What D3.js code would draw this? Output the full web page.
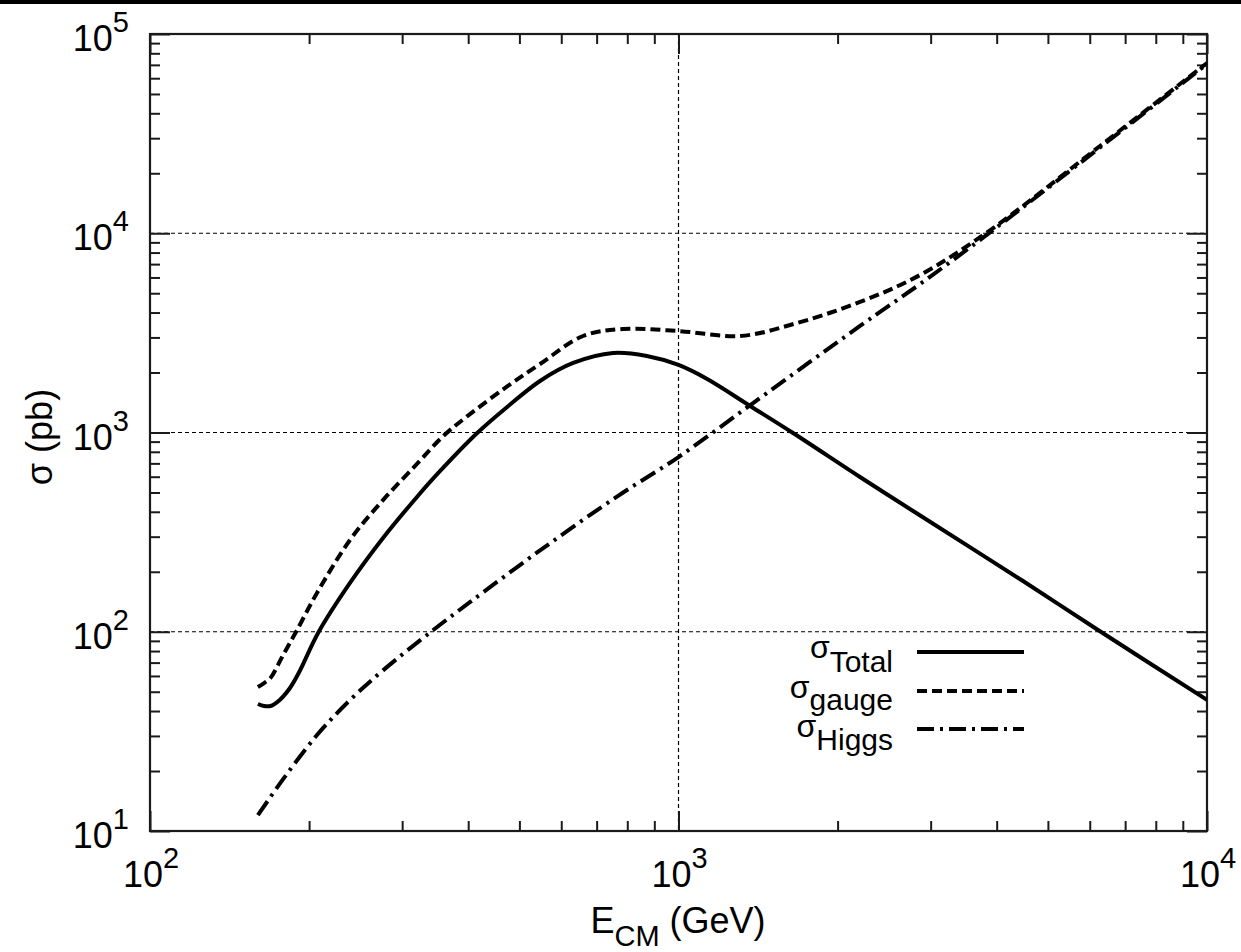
<!DOCTYPE html>
<html>
<head>
<meta charset="utf-8">
<script src="https://cdn.jsdelivr.net/npm/d3@7"></script>
<style>
  body { margin: 0; background: #fff; }
  svg { display: block; font-family: "Liberation Sans", Arial, Helvetica, sans-serif; }
</style>
</head>
<body>
<div id="chart"></div>
<script>
// values (E in GeV, sigma in pb)
var totalE     = [160, 164.4, 169, 176, 184, 192, 208, 239, 276, 320, 354, 416, 474, 547, 632, 752, 871, 1000, 1133, 1366, 1647, 2205, 2827, 4486, 6220, 10000];
var totalSigma = [43.4, 42.4, 42.4, 45.5, 52.2, 63.5, 98.6, 175.7, 295.5, 474.7, 641, 994, 1343, 1814, 2233, 2506, 2421, 2183, 1856, 1359, 994, 598, 392, 179.8, 102, 45.5];

var gaugeE     = [160, 164.4, 169, 177.8, 189, 207, 239, 276, 320, 358, 398, 474, 547, 660, 785, 1000, 1307, 1626, 2205, 2864, 3885, 6274, 10000];
var gaugeSigma = [52.8, 55.3, 58.6, 74.7, 100, 156.5, 288.8, 458, 695, 954, 1204, 1703, 2207, 3050, 3308, 3231, 3050, 3463, 4519, 6171, 10350, 27410, 71540];

var higgsE     = [160, 178.6, 207, 239, 276, 343, 403, 547, 765, 1000, 1384, 2205, 2864, 3885, 6274, 10000];
var higgsSigma = [12.0, 18.2, 30.3, 45.4, 64.0, 101.7, 140.7, 256, 477, 753, 1406, 3424, 5560, 10100, 26940, 70700];

// axis decades
var xMajor = [100, 1000, 10000];
var xExp   = ["2", "3", "4"];
var yMajor = [10, 100, 1000, 10000, 100000];
var yExp   = ["1", "2", "3", "4", "5"];

var legendNames = ["Total", "gauge", "Higgs"];

var width = 1241, height = 952;
var plotL = 150, plotR = 1207, plotT = 34, plotB = 831;
var fontMain = 36, fontSup = 29;

var svg = d3.select("#chart").append("svg")
  .attr("width", width)
  .attr("height", height);

svg.append("rect").attr("x", 0).attr("y", 0).attr("width", width).attr("height", height).attr("fill", "#fff");
// black strip along the top edge
svg.append("rect").attr("x", 0).attr("y", 0).attr("width", width).attr("height", 4).attr("fill", "#000");

var x = d3.scaleLog().domain([100, 10000]).range([plotL, plotR]);
var y = d3.scaleLog().domain([10, 100000]).range([plotB, plotT]);

// grid (only inner major lines)
var grid = svg.append("g").attr("stroke", "#000").attr("stroke-width", 1.2).attr("stroke-dasharray", "4,3");
xMajor.slice(1, -1).forEach(function(v){
  grid.append("line").attr("x1", x(v)).attr("x2", x(v)).attr("y1", plotT).attr("y2", plotB);
});
yMajor.slice(1, -1).forEach(function(v){
  grid.append("line").attr("x1", plotL).attr("x2", plotR).attr("y1", y(v)).attr("y2", y(v));
});

// ticks on all four sides, pointing inward
var isMajor = function(v){ return Math.abs(Math.log10(v) - Math.round(Math.log10(v))) < 1e-9; };
var xMinor = x.ticks().filter(function(v){ return !isMajor(v); });
var yMinor = y.ticks().filter(function(v){ return !isMajor(v); });

function addAxis(axis, tx, ty){
  var g = svg.append("g").attr("transform", "translate(" + tx + "," + ty + ")").call(axis);
  g.select(".domain").remove();
  g.selectAll("line").attr("stroke", "#1a1a1a").attr("stroke-width", 2);
  g.selectAll("text").remove();
}
addAxis(d3.axisBottom(x).tickValues(xMinor).tickSize(-10).tickFormat(""), 0, plotB);
addAxis(d3.axisBottom(x).tickValues(xMajor).tickSize(-20).tickFormat(""), 0, plotB);
addAxis(d3.axisTop(x).tickValues(xMinor).tickSize(-10).tickFormat(""), 0, plotT);
addAxis(d3.axisTop(x).tickValues(xMajor).tickSize(-20).tickFormat(""), 0, plotT);
addAxis(d3.axisLeft(y).tickValues(yMinor).tickSize(-10).tickFormat(""), plotL, 0);
addAxis(d3.axisLeft(y).tickValues(yMajor).tickSize(-20).tickFormat(""), plotL, 0);
addAxis(d3.axisRight(y).tickValues(yMinor).tickSize(-10).tickFormat(""), plotR, 0);
addAxis(d3.axisRight(y).tickValues(yMajor).tickSize(-20).tickFormat(""), plotR, 0);

// border
svg.append("rect")
  .attr("x", plotL).attr("y", plotT)
  .attr("width", plotR - plotL).attr("height", plotB - plotT)
  .attr("fill", "none").attr("stroke", "#1a1a1a").attr("stroke-width", 2.2);

// tick labels
xMajor.forEach(function(v, i){
  var t = svg.append("text")
    .attr("x", x(v) + 1).attr("y", plotB + 56)
    .attr("text-anchor", "middle")
    .attr("font-size", fontMain).attr("fill", "#000");
  t.append("tspan").text("10");
  t.append("tspan").attr("font-size", fontSup).attr("dy", -19).text(xExp[i]);
});
yMajor.forEach(function(v, i){
  var t = svg.append("text")
    .attr("x", 129).attr("y", y(v) + 17)
    .attr("text-anchor", "end")
    .attr("font-size", fontMain).attr("fill", "#000");
  t.append("tspan").text("10");
  t.append("tspan").attr("font-size", fontSup).attr("dy", -19).text(yExp[i]);
});

// axis titles
var xt = svg.append("text")
  .attr("x", 678).attr("y", 933)
  .attr("text-anchor", "middle")
  .attr("font-size", fontMain).attr("fill", "#000");
xt.append("tspan").text("E");
xt.append("tspan").attr("font-size", fontSup).attr("dy", 13).text("CM");
xt.append("tspan").attr("dy", -13).text(" (GeV)");

svg.append("text")
  .attr("transform", "translate(52,437) rotate(-90)")
  .attr("text-anchor", "middle")
  .attr("font-size", fontMain).attr("fill", "#000")
  .text("σ (pb)");

// curves
svg.append("clipPath").attr("id", "plotclip")
  .append("rect").attr("x", plotL).attr("y", plotT).attr("width", plotR - plotL).attr("height", plotB - plotT);

var line = d3.line()
  .x(function(d){ return x(d[0]); })
  .y(function(d){ return y(d[1]); })
  .curve(d3.curveCatmullRom.alpha(0.5));

var series = [
  { e: totalE, s: totalSigma, dash: null },
  { e: gaugeE, s: gaugeSigma, dash: "10,5" },
  { e: higgsE, s: higgsSigma, dash: "17,6,3,6" }
];

var curves = svg.append("g").attr("clip-path", "url(#plotclip)");
series.forEach(function(sr){
  var pts = sr.e.map(function(e, i){ return [e, sr.s[i]]; });
  curves.append("path")
    .attr("d", line(pts))
    .attr("fill", "none")
    .attr("stroke", "#000")
    .attr("stroke-width", 4)
    .attr("stroke-linejoin", "round")
    .attr("stroke-dasharray", sr.dash);
});

// legend
var legRows = [652, 691, 729];
var legShift = [[6, 14], [7, 12], [8, 13]];
legendNames.forEach(function(name, i){
  var t = svg.append("text")
    .attr("x", 893).attr("y", legRows[i] + legShift[i][0])
    .attr("text-anchor", "end")
    .attr("font-size", 32).attr("fill", "#000");
  t.append("tspan").text("σ");
  t.append("tspan").attr("font-size", 30).attr("dy", legShift[i][1]).text(name);
  svg.append("line")
    .attr("x1", 917).attr("x2", 1024)
    .attr("y1", legRows[i]).attr("y2", legRows[i])
    .attr("stroke", "#000").attr("stroke-width", 4)
    .attr("stroke-dasharray", series[i].dash);
});
</script>
</body>
</html>
